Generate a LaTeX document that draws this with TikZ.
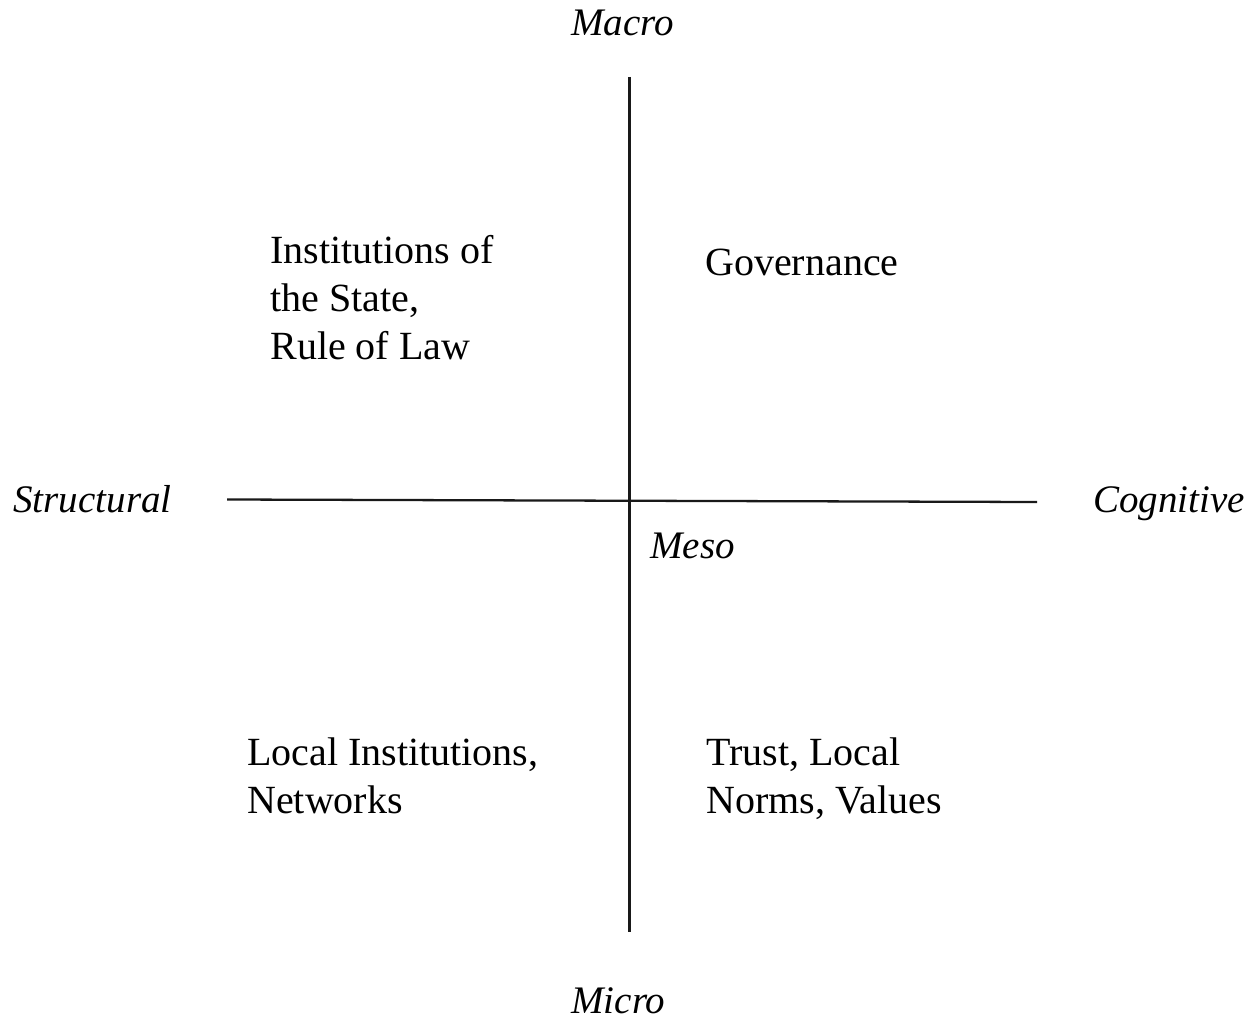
\documentclass[tikz,border=0pt]{standalone}
\usepackage{fontspec}
\setmainfont{Liberation Serif}
\begin{document}
\begin{tikzpicture}[x=0.02cm,y=-0.02cm,
  axis/.style={line width=1.3pt,black!90},
  lbl/.style={font=\fontsize{22.2pt}{26.6pt}\selectfont\itshape,inner sep=0pt,anchor=base west},
  cell/.style={font=\fontsize{22.76pt}{27.3pt}\selectfont,inner sep=0pt,align=left,anchor=north west}]
\useasboundingbox (0,0) rectangle (1256,1020);
\coordinate (top) at (629.5,77);
\coordinate (bot) at (629.5,932);
\coordinate (left) at (227,499.5);
\coordinate (right) at (1037,502);
\draw[axis] (top) -- (bot);
\draw[axis] (left) -- (right);
\node[lbl] (macro) at (571,36) {Macro};
\node[lbl] (micro) at (571,1013) {Micro};
\node[lbl] (struct) at (13,512) {Structural};
\node[lbl] (cogn) at (1093,512) {Cognitive};
\node[lbl] (meso) at (650,558) {Meso};
\node[cell] (inst) at (270,235) {Institutions of\\the State,\\Rule of Law};
\node[cell] (gov) at (705,249) {Governance};
\node[cell] (local) at (247,737) {Local Institutions,\\Networks};
\node[cell] (trust) at (706,737) {Trust, Local\\Norms, Values};
\end{tikzpicture}
\end{document}
